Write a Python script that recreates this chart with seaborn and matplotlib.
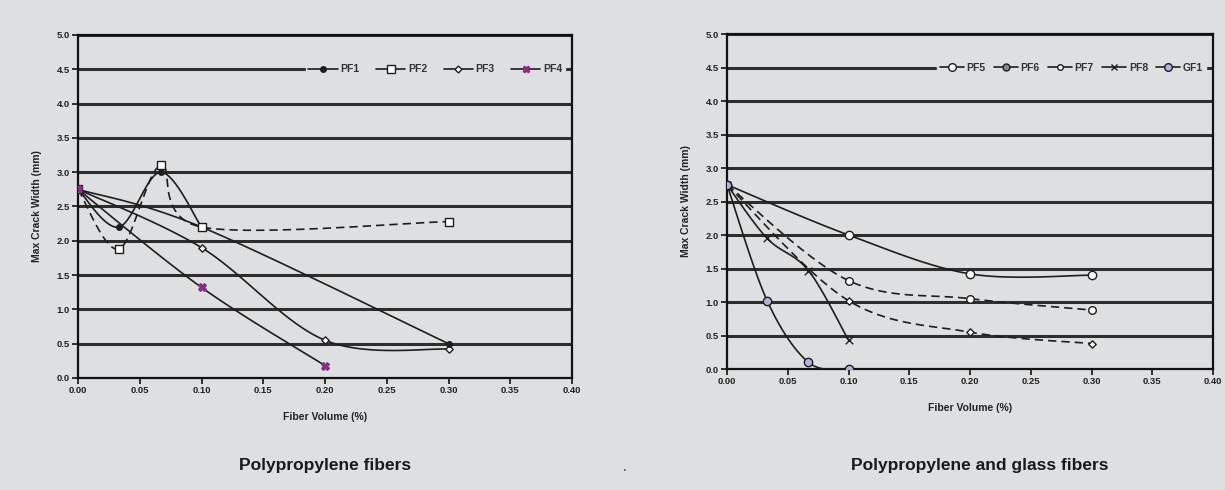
import numpy as np
import pandas as pd
import matplotlib
matplotlib.use("Agg")
import matplotlib.pyplot as plt
from matplotlib.lines import Line2D
import seaborn as sns

sns.set_theme(style="white")
plt.rcParams['font.family'] = ['Liberation Sans', 'DejaVu Sans']

BG = "#dedfe1"
LINE = "#1e1e1e"

# ---------------- data: left panel (Polypropylene fibers) ----------------
pf1_x = [0.0, 0.1, 0.3]
pf1_y = [2.75, 2.2, 0.5]
pf1b_x = [0.0, 0.033, 0.067, 0.1]          # second PF1 trace (short)
pf1b_y = [2.75, 2.2, 3.0, 2.2]
pf2_x = [0.0, 0.033, 0.067, 0.1, 0.3]
pf2_y = [2.75, 1.88, 3.1, 2.2, 2.28]
pf3_x = [0.0, 0.1, 0.2, 0.3]
pf3_y = [2.75, 1.9, 0.55, 0.42]
pf4_x = [0.0, 0.1, 0.2]
pf4_y = [2.75, 1.32, 0.18]

# ---------------- data: right panel (Polypropylene and glass fibers) -----
pf5_x = [0.0, 0.1, 0.2, 0.3]
pf5_y = [2.75, 2.0, 1.42, 1.4]
pf6_x = [0.0, 0.1, 0.2, 0.3]
pf6_y = [2.75, 1.32, 1.05, 0.88]
pf7_x = [0.0, 0.1, 0.2, 0.3]
pf7_y = [2.75, 1.02, 0.55, 0.38]
pf8_x = [0.0, 0.033, 0.067, 0.1]
pf8_y = [2.75, 1.95, 1.47, 0.43]
gf1_x = [0.0, 0.033, 0.067, 0.1]
gf1_y = [2.75, 1.02, 0.1, 0.0]

x_ticks = [0.0, 0.05, 0.10, 0.15, 0.20, 0.25, 0.30, 0.35, 0.40]
x_tick_labels = ["0.00", "0.05", "0.10", "0.15", "0.20", "0.25", "0.30", "0.35", "0.40"]
y_ticks = [0.0, 0.5, 1.0, 1.5, 2.0, 2.5, 3.0, 3.5, 4.0, 4.5, 5.0]
y_tick_labels = ["0.0", "0.5", "1.0", "1.5", "2.0", "2.5", "3.0", "3.5", "4.0", "4.5", "5.0"]


def smooth(xs, ys, n=40):
    """Excel-like smoothed line (uniform Catmull-Rom through the data points)."""
    P = np.column_stack([xs, ys]).astype(float)
    if len(P) < 3:
        return P[:, 0], P[:, 1]
    pts = np.vstack([P[0], P, P[-1]])
    t = np.linspace(0, 1, n)[:, None]
    out = []
    for i in range(1, len(pts) - 2):
        p0, p1, p2, p3 = pts[i - 1], pts[i], pts[i + 1], pts[i + 2]
        seg = 0.5 * ((2 * p1) + (-p0 + p2) * t + (2 * p0 - 5 * p1 + 4 * p2 - p3) * t ** 2
                     + (-p0 + 3 * p1 - 3 * p2 + p3) * t ** 3)
        out.append(seg if i == 1 else seg[1:])
    S = np.vstack(out)
    return S[:, 0], S[:, 1]


def draw_series(ax, xs, ys, ls, marker, mfc, mec, ms, z=3):
    sx, sy = smooth(xs, ys)
    df = pd.DataFrame({"x": sx, "y": sy})
    sns.lineplot(data=df, x="x", y="y", ax=ax, sort=False, estimator=None,
                 color=LINE, linewidth=1.2, linestyle=ls, zorder=z)
    if ls == "--":
        ax.lines[-1].set_dashes((5, 3))
    dm = pd.DataFrame({"x": xs, "y": ys})
    sns.scatterplot(data=dm, x="x", y="y", ax=ax, marker=marker, s=ms,
                    color=mfc, edgecolor=mec, linewidth=1.0, zorder=z + 1, legend=False)


def style_axes(ax):
    ax.set_facecolor(BG)
    ax.set_xlim(0, 0.40)
    ax.set_ylim(0, 5.0)
    ax.set_xticks(x_ticks)
    ax.set_xticklabels(x_tick_labels)
    ax.set_yticks(y_ticks)
    ax.set_yticklabels(y_tick_labels)
    for yv in y_ticks[1:]:
        ax.axhline(yv, color="#2e2e2e", linewidth=2.2, zorder=1)
    for s in ax.spines.values():
        s.set_visible(True)
        s.set_color("#111111")
        s.set_linewidth(1.6)
    ax.tick_params(axis="both", which="major", direction="out", length=4, width=1.2,
                   color="#111111", labelsize=6.8, pad=2, bottom=True, left=True)
    for lab in ax.get_xticklabels() + ax.get_yticklabels():
        lab.set_fontweight("bold")
        lab.set_color("#222222")
    ax.set_xlabel("Fiber Volume (%)", fontsize=7.5, fontweight="bold", color="#222222", labelpad=12)
    ax.set_ylabel("Max Crack Width (mm)", fontsize=7.5, fontweight="bold", color="#222222", labelpad=10)


fig = plt.figure(figsize=(12.25, 4.9), dpi=100, facecolor=BG)
axL = fig.add_axes([0.0637, 0.2286, 0.4033, 0.70])
axR = fig.add_axes([0.5935, 0.2469, 0.3967, 0.6837])
style_axes(axL)
style_axes(axR)

PURPLE = "#8a2b8a"
LAV = "#b4b2e0"

# left panel
draw_series(axL, pf3_x, pf3_y, "-", "D", "white", LINE, 14)
draw_series(axL, pf1_x, pf1_y, "-", "o", LINE, LINE, 16)
draw_series(axL, pf1b_x, pf1b_y, "-", "o", LINE, LINE, 16)
draw_series(axL, pf2_x, pf2_y, "--", "s", "white", LINE, 34)
draw_series(axL, pf4_x, pf4_y, "-", "X", PURPLE, PURPLE, 30, z=5)

# right panel
draw_series(axR, pf5_x, pf5_y, "-", "o", "white", LINE, 36)
draw_series(axR, pf6_x, pf6_y, "--", "o", "white", LINE, 30)
draw_series(axR, pf7_x, pf7_y, "--", "D", "white", LINE, 14)
draw_series(axR, pf8_x, pf8_y, "-", "x", LINE, LINE, 30)
draw_series(axR, gf1_x, gf1_y, "-", "o", LAV, LINE, 36, z=5)


def handle(marker, mfc, mec, ms, label):
    return Line2D([0], [0], color=LINE, linewidth=1.2, marker=marker, markersize=ms,
                  markerfacecolor=mfc, markeredgecolor=mec, label=label)


hL = [handle("o", LINE, LINE, 4, "PF1"), handle("s", "white", LINE, 5.5, "PF2"),
      handle("D", "white", LINE, 3.5, "PF3"), handle("X", PURPLE, PURPLE, 5, "PF4")]
hR = [handle("o", "white", LINE, 5.5, "PF5"), handle("o", "#888888", LINE, 5, "PF6"),
      handle("o", "white", LINE, 4, "PF7"), handle("x", LINE, LINE, 5, "PF8"),
      handle("o", LAV, LINE, 5.5, "GF1")]

for ax, hs, hl, cs in ((axL, hL, 2.8, 1.6), (axR, hR, 2.3, 0.8)):
    leg = ax.legend(handles=hs, loc="center right", bbox_to_anchor=(0.985, 0.9), ncol=len(hs),
                    frameon=True, facecolor=BG, edgecolor=BG, framealpha=1.0,
                    fontsize=7.5, handlelength=hl, handletextpad=0.25, columnspacing=cs,
                    borderpad=0.25, borderaxespad=0.0)
    leg.set_zorder(6)
    for t in leg.get_texts():
        t.set_fontweight("bold")
        t.set_color("#333333")

fig.text(0.265, 0.051, "Polypropylene fibers", ha="center", va="center",
         fontsize=12.5, fontweight="bold", color="#1a1a1a")
fig.text(0.80, 0.051, "Polypropylene and glass fibers", ha="center", va="center",
         fontsize=12.5, fontweight="bold", color="#1a1a1a")
fig.text(0.51, 0.047, ".", ha="center", va="center", fontsize=10, color="#333333")

fig.savefig("out.png", dpi=100, facecolor=BG)
